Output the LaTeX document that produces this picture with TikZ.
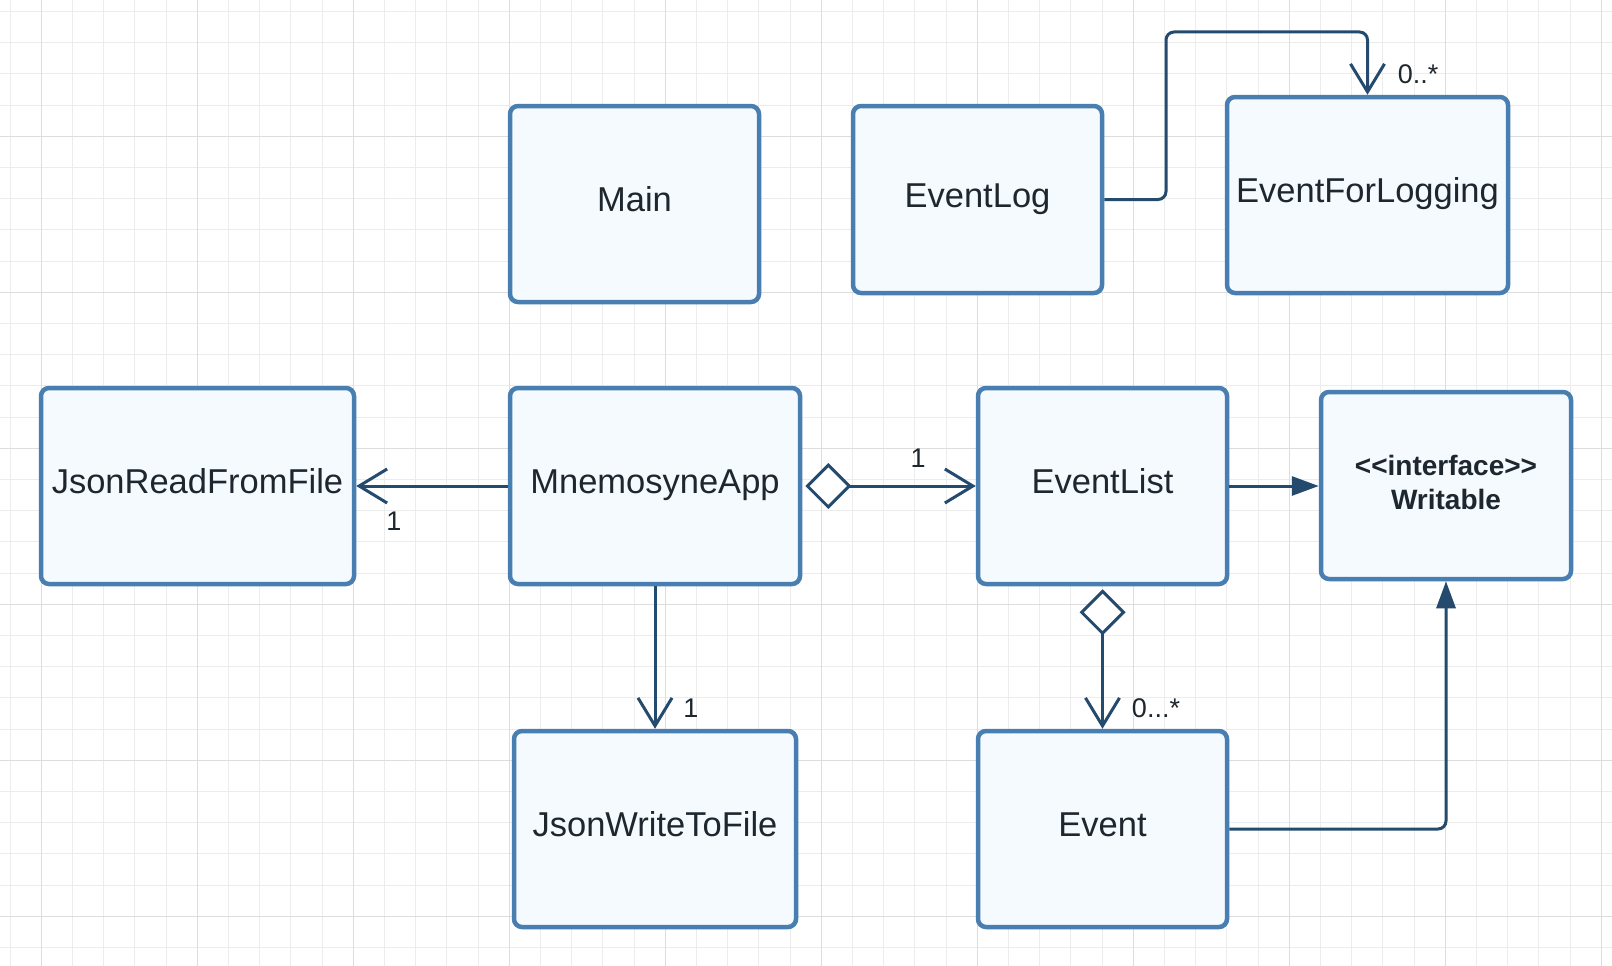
\documentclass[tikz,border=0pt]{standalone}
\usepackage{fontspec}
\setmainfont{Liberation Sans}
\usetikzlibrary{arrows.meta}
\definecolor{boxborder}{RGB}{72,126,176}
\definecolor{boxfill}{RGB}{245,250,255}
\definecolor{conncol}{RGB}{36,74,110}
\definecolor{txt}{RGB}{30,38,46}
\definecolor{gminor}{RGB}{236,236,236}
\definecolor{gmajor}{RGB}{221,221,221}
\begin{document}
\begin{tikzpicture}[x=1pt,y=-1pt,
  boxbase/.style={draw=boxborder, line width=4.5pt, fill=boxfill, rounded corners=8pt,
    inner sep=0pt, text=txt},
  cls/.style={boxbase, font=\fontsize{34.5}{40}\selectfont, text height=24.7pt, text depth=9pt},
  iface/.style={boxbase, font=\bfseries\fontsize{28}{34}\selectfont},
  connector/.style={draw=conncol, line width=3pt},
  openhead/.style={-{Straight Barb[length=28pt,width=34pt]}},
  mult/.style={text=txt, font=\fontsize{27}{32}\selectfont, inner sep=0pt},
  minorline/.style={draw=gminor, line width=1pt},
  majorline/.style={draw=gmajor, line width=1.5pt}
]
\useasboundingbox (0,0) rectangle (1612,966);
\fill[white] (0,0) rectangle (1612,966);
% grid
\foreach \i in {0,...,51} {\draw[minorline] ({10.1+31.2*\i},0) -- ({10.1+31.2*\i},966);}
\foreach \i in {0,...,30} {\draw[minorline] (0,{11.5+31.2*\i}) -- (1612,{11.5+31.2*\i});}
\foreach \i in {0,...,10} {\draw[majorline] ({41.3+156*\i},0) -- ({41.3+156*\i},966);}
\foreach \i in {0,...,6} {\draw[majorline] (0,{136.3+156*(\i-1)}) -- (1612,{136.3+156*(\i-1)});}

% classes
\node[cls, minimum width=249pt, minimum height=196pt] (main) at (634.5,204) {Main};
\node[cls, minimum width=249pt, minimum height=187pt] (elog) at (977.5,199.5) {EventLog};
\node[cls, minimum width=281pt, minimum height=196pt] (efl) at (1367.5,195) {EventForLogging};
\node[cls, minimum width=313pt, minimum height=196pt] (jrf) at (197.5,486) {JsonReadFromFile};
\node[cls, minimum width=290pt, minimum height=196pt] (mna) at (655,486) {MnemosyneApp};
\node[cls, minimum width=249pt, minimum height=196pt] (el) at (1102.5,486) {EventList};
\node[iface, minimum width=250pt, minimum height=187pt] (wr) at (1446,485.5) {\raisebox{4.5pt}{\begin{tabular}{@{}c@{}}<\kern0pt<interface>\kern0pt>\\Writable\end{tabular}}};
\node[cls, minimum width=282pt, minimum height=196pt] (jwf) at (655,829) {JsonWriteToFile};
\node[cls, minimum width=249pt, minimum height=196pt] (ev) at (1102.5,829) {Event};

% connectors
\draw[connector, openhead] (mna.west) -- (jrf.east);
\draw[connector, {Diamond[fill=white,length=46pt,width=46pt]}-{Straight Barb[length=28pt,width=34pt]}, shorten <=3pt] (mna.east) -- (el.west);
\draw[connector, -{Triangle[length=27pt,width=19pt]}] (el.east) -- (el.east -| wr.west);
\draw[connector, openhead] (mna.south) -- (jwf.north);
\draw[connector, {Diamond[fill=white,length=46pt,width=46pt]}-{Straight Barb[length=28pt,width=34pt]}, shorten <=3pt] (el.south) -- (ev.north);
\draw[connector, rounded corners=8pt, -{Triangle[length=27pt,width=19pt]}] (ev.east) -| (wr.south);
\coordinate (loopup) at (1166,32);
\draw[connector, rounded corners=8pt, openhead] (elog.east) -| (loopup) -| (efl.north);

% multiplicities
\node[mult] (m1) at (394,521) {1};
\node[mult] (m2) at (918,458) {1};
\node[mult] (m3) at (691,708) {1};
\node[mult] (m4) at (1156,708) {0...*};
\node[mult] (m5) at (1418,74) {0..*};
\end{tikzpicture}
\end{document}
